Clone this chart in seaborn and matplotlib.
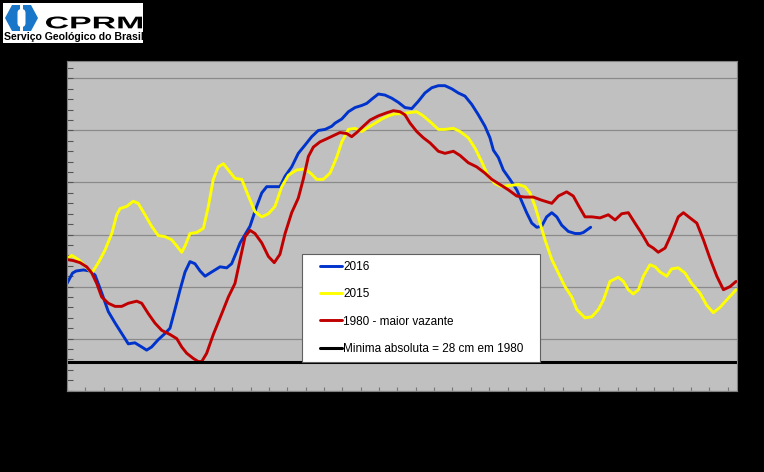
import numpy as np
import pandas as pd
import matplotlib
matplotlib.use("Agg")
import matplotlib.pyplot as plt
from matplotlib.patches import Rectangle, Polygon, FancyBboxPatch, PathPatch
from matplotlib.textpath import TextPath
from matplotlib.font_manager import FontProperties
from matplotlib.transforms import Affine2D
from matplotlib.ticker import MultipleLocator
from matplotlib.lines import Line2D
from matplotlib.legend_handler import HandlerLine2D
import seaborn as sns

# ---------------- data (day of period, level in cm) ----------------
days_2016 = [0, 3, 5, 9, 12.5, 15.3, 18.9, 22.5, 26.2, 29.8, 33.4, 37.0, 40.7, 43.4, 46.1, 49.7,
             53.4, 56.1, 58.8, 61.6, 64.3, 67.0, 69.7, 72.5, 75.2, 78.8, 83.4, 87.0, 89.7, 92.5,
             94.3, 99.7, 103.3, 106.1, 108.8, 112.4, 116.0, 118.8, 122.4, 126.0, 129.7, 133.3,
             136.9, 140.6, 144.2, 146.0, 149.7, 153.3, 156.9, 160.6, 163.3, 166.0, 169.6, 173.2,
             176.9, 180.5, 184.1, 187.8, 191.4, 195.0, 198.7, 202.3, 205.9, 209.6, 213.2, 216.8,
             220.5, 224.1, 227.7, 230.4, 232.3, 235.0, 237.7, 241.3, 245.0, 247.7, 250.4, 253.2,
             255.9, 258.6, 261.3, 264.1, 266.8, 269.5, 273.1, 276.8, 279.5, 281.3, 285.3]
level_2016 = [103, 113, 115, 116, 115, 111, 94, 76, 65, 55, 45, 46, 42, 39, 42, 49,
              55, 60, 78, 97, 114, 124, 122, 115, 110, 114, 119, 118, 122, 134,
              142, 158, 177, 190, 196, 196, 196, 206, 215, 228, 236, 244,
              250, 251, 254, 257, 261, 268, 272, 274, 276, 280, 285, 284,
              281, 277, 272, 271, 278, 286, 291, 293, 293, 290, 286, 283,
              275, 265, 254, 243, 231, 224, 212, 203, 193, 182, 171, 161,
              157, 158, 167, 171, 167, 159, 153, 151, 151, 152, 157]

days_2015 = [0, 2.6, 6.2, 9.8, 13.5, 17.1, 20.7, 24.4, 27.1, 28.9, 32.5, 36.1, 38.8, 42.5, 46.1,
             49.7, 53.4, 57.0, 59.8, 62.5, 64.3, 67.0, 70.7, 74.3, 77.0, 79.7, 82.4, 85.2, 87.9,
             91.5, 95.2, 98.8, 102.4, 106.1, 109.7, 113.3, 117.0, 120.6, 125.1, 129.7, 133.3,
             136.0, 139.6, 143.3, 146.9, 149.7, 153.3, 156.9, 160.6, 164.2, 167.8, 171.5, 175.1,
             178.7, 182.3, 185.9, 190.5, 194.1, 198.7, 202.3, 205.9, 210.5, 214.1, 218.6, 222.3,
             225.9, 229.5, 233.2, 236.8, 240.4, 245.9, 249.5, 252.2, 255.0, 257.7, 260.4, 264.1,
             267.7, 271.3, 275.0, 277.7, 282.2, 285.9, 289.5, 292.2, 295.8, 300.3, 303.1, 305.8,
             308.5, 311.3, 314.0, 317.6, 320.4, 323.1, 326.7, 329.4, 333.0, 336.7, 340.3, 344.8,
             348.5, 352.1, 355.7, 360.3, 364.5]
level_2015 = [127, 130, 126, 120, 113, 123, 135, 151, 169, 175, 177, 182, 180, 169, 158,
              149, 148, 145, 139, 133, 139, 151, 152, 156, 177, 203, 215, 218, 212,
              204, 203, 187, 172, 167, 170, 177, 196, 207, 212, 213, 208,
              203, 203, 209, 224, 239, 251, 252, 249, 253, 257, 261, 264,
              266, 266, 267, 268, 264, 257, 251, 251, 252, 249, 243, 233,
              220, 206, 199, 196, 197, 198, 196, 190, 177, 161, 145, 126,
              113, 100, 90, 78, 70, 71, 78, 87, 105, 109, 105, 97,
              93, 97, 110, 121, 119, 114, 110, 117, 118, 113, 103, 94,
              82, 75, 80, 89, 97]

days_1980 = [0, 3.4, 7.1, 10.7, 13.5, 16.2, 18.9, 22.5, 26.2, 29.8, 33.4, 38.0, 40.7, 44.3, 47.9,
             51.6, 56.1, 59.8, 62.5, 65.2, 68.8, 71.5, 73.4, 76.1, 79.7, 84.3, 87.9, 91.5, 94.3,
             97.0, 99.7, 102.4, 106.1, 109.7, 112.9, 116.0, 118.8, 122.4, 126.0, 128.7, 131.5,
             134.2, 137.8, 141.5, 145.1, 148.7, 152.4, 155.1, 157.8, 161.4, 165.1, 169.6, 174.2,
             177.8, 181.4, 184.1, 186.9, 190.5, 194.1, 197.8, 202.3, 205.9, 210.5, 214.1, 218.6,
             223.2, 227.7, 231.4, 235.9, 240.4, 245.0, 249.5, 254.0, 258.6, 264.1, 267.7, 272.2,
             275.8, 278.6, 282.2, 285.9, 290.4, 294.9, 298.6, 302.2, 305.8, 309.4, 313.1, 316.7,
             319.4, 322.1, 325.8, 329.4, 333.0, 335.8, 339.4, 343.1, 346.7, 350.3, 354.0, 357.6,
             361.2, 364.5]
level_1980 = [126, 125, 123, 119, 113, 103, 90, 84, 81, 81, 84, 86, 84, 74, 65,
              58, 54, 50, 42, 36, 31, 28, 28, 36, 54, 74, 90, 103, 126,
              148, 154, 151, 142, 129, 123, 131, 151, 171, 185, 203, 225,
              234, 239, 242, 245, 248, 247, 244, 248, 254, 260, 264, 267,
              269, 268, 265, 257, 249, 243, 238, 230, 228, 230, 226, 219,
              215, 209, 203, 198, 193, 187, 186, 186, 183, 180, 187, 191,
              187, 178, 167, 167, 166, 169, 164, 170, 171, 161, 151, 140,
              137, 133, 137, 151, 167, 171, 166, 161, 145, 127, 110, 97,
              100, 105]

labels = ["2016", "2015", "1980 - maior vazante"]
colors = ["#0033CC", "#FFFF00", "#C00000"]
min_level = 28
min_label = "Minima absoluta = 28 cm em 1980"
logo_title = "CPRM"
logo_sub = "Serviço Geológico do Brasil"

# ---------------- build frame ----------------
frames = []
for lab, d, v in zip(labels, [days_2016, days_2015, days_1980],
                     [level_2016, level_2015, level_1980]):
    frames.append(pd.DataFrame({"dia": d, "cota": v, "serie": lab}))
df = pd.concat(frames, ignore_index=True)

sns.set_theme(style="white")
plt.rcParams["font.family"] = ["Liberation Sans", "DejaVu Sans"]

W, H = 764, 472
fig = plt.figure(figsize=(W / 100, H / 100), dpi=100, facecolor="black")
ax = fig.add_axes([67 / W, 1 - 390.7 / H, (737 - 67) / W, (390.7 - 60.7) / H])
ax.set_facecolor("#C0C0C0")

sns.lineplot(data=df, x="dia", y="cota", hue="serie", hue_order=labels,
             palette=dict(zip(labels, colors)), linewidth=2.1, sort=False,
             estimator=None, ax=ax)
ax.axhline(min_level, color="black", linewidth=2.2, label=min_label)

ax.set_xlim(0, 365)
ax.set_ylim(0, 317)
ax.yaxis.set_major_locator(MultipleLocator(50))
ax.yaxis.set_minor_locator(MultipleLocator(10))
ax.xaxis.set_major_locator(MultipleLocator(10))
ax.grid(axis="y", which="major", color="#8A8A8A", linewidth=0.9)
ax.grid(axis="x", visible=False)
ax.tick_params(axis="y", which="both", direction="in", left=True, length=4,
               color="#555555", labelleft=False, width=0.8)
ax.tick_params(axis="x", which="major", direction="in", bottom=True, length=3,
               color="#777777", labelbottom=False, width=0.8)
ax.set_xlabel("")
ax.set_ylabel("")
for s in ax.spines.values():
    s.set_color("#808080")
    s.set_linewidth(0.8)

handles, labs = ax.get_legend_handles_labels()
leg = ax.legend(handles, labs, loc="lower left", mode="expand",
                bbox_to_anchor=((302 - 67) / 670, (390.7 - 362) / 330,
                                (540 - 302) / 670, (362 - 255) / 330),
                frameon=True, fancybox=False, framealpha=1, facecolor="white",
                edgecolor="#606060", handlelength=2.77,
                handletextpad=0.08, labelspacing=1.28, borderpad=0.62,
                borderaxespad=0, prop={"family": ["Liberation Sans"], "size": 8.5},
                handler_map={Line2D: HandlerLine2D(xpad=0.9)})
leg.get_frame().set_linewidth(0.8)
for t in leg.get_texts():
    t.set_color("black")

# ---------------- logo (decoration) ----------------
lax = fig.add_axes([0, 0, 1, 1], facecolor="none")
lax.set_xlim(0, W)
lax.set_ylim(H, 0)
lax.axis("off")
lax.add_patch(Rectangle((3, 3), 140, 40, facecolor="white", edgecolor="none"))
blue = "#1877C9"
hexagon = Polygon([(12, 5), (31, 5), (38, 18), (31, 31), (12, 31), (5, 18)],
                  closed=True, facecolor=blue, edgecolor="none")
lax.add_patch(hexagon)
lax.add_patch(FancyBboxPatch((17.5, 9), 8, 18, boxstyle="round,pad=0,rounding_size=4",
                             facecolor="white", edgecolor="none"))
lax.add_patch(Rectangle((20, 4), 3, 6, facecolor="white", edgecolor="none"))
lax.add_patch(Rectangle((20, 26), 3, 6, facecolor="white", edgecolor="none"))

# wide "CPRM" wordmark: text path stretched into its box
tp = TextPath((0, 0), logo_title, size=10,
              prop=FontProperties(family="Liberation Sans", weight="bold"))
ext = tp.get_extents()
x0, x1, ytop, ybot = 46, 142, 16.5, 28.5
sx = (x1 - x0) / ext.width
sy = (ybot - ytop) / ext.height
tr = Affine2D().translate(-ext.x0, -ext.y0).scale(sx, -sy).translate(x0, ybot)
lax.add_patch(PathPatch(tr.transform_path(tp), facecolor="black", edgecolor="none"))

lax.text(4, 37, logo_sub, fontsize=7.6, fontweight="bold", color="black",
         ha="left", va="center", family=["Liberation Sans"])

fig.savefig("out.png", dpi=100, facecolor="black")
